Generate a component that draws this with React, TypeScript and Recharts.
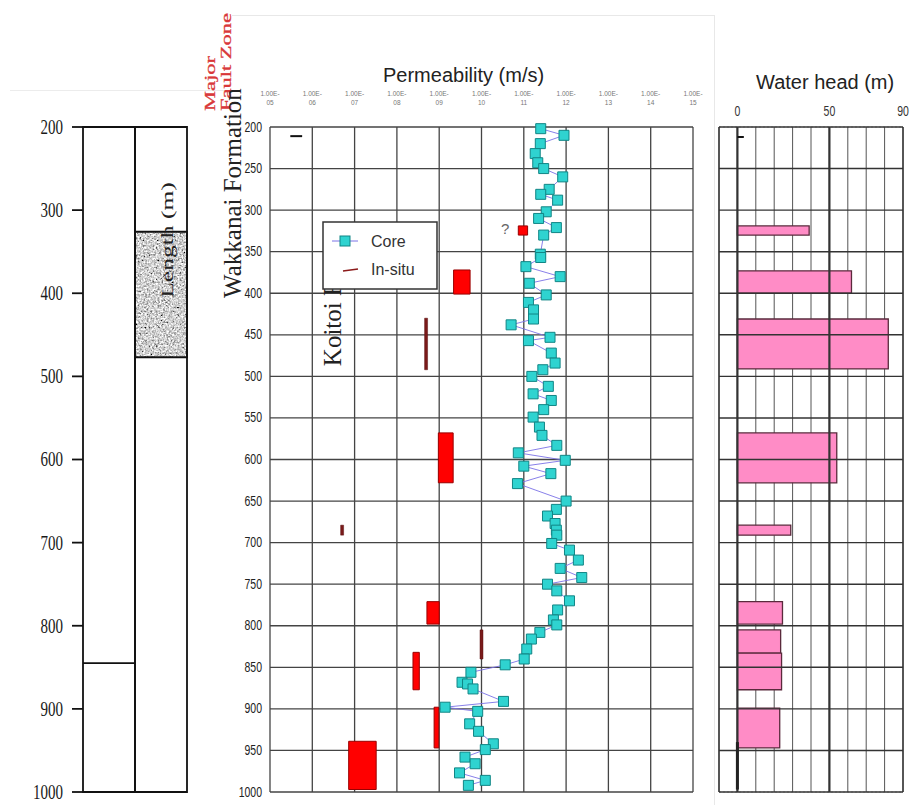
import React from 'react';
import {
  ComposedChart,
  Scatter,
  XAxis,
  YAxis,
  ZAxis,
  CartesianGrid,
  ReferenceArea,
  ReferenceLine,
} from 'recharts';

// depth (m), shared by the three panels
const depthTicks = [200, 300, 400, 500, 600, 700, 800, 900, 1000];
const depthTicks50 = [200, 250, 300, 350, 400, 450, 500, 550, 600, 650, 700, 750, 800, 850, 900, 950, 1000];
const depthTicks25 = [
  200, 225, 250, 275, 300, 325, 350, 375, 400, 425, 450, 475, 500, 525, 550, 575, 600,
  625, 650, 675, 700, 725, 750, 775, 800, 825, 850, 875, 900, 925, 950, 975, 1000,
];

// permeability axis, value n stands for 1.00E-n m/s
const decades = [5, 6, 7, 8, 9, 10, 11, 12, 13, 14, 15];

// core samples
const coreDepth = [
  202, 210, 220, 232, 243, 250, 260, 275, 281, 288, 302, 310, 321, 330, 353, 357, 368, 380, 388, 402,
  411, 420, 431, 438, 453, 457, 472, 484, 492, 500, 512, 521, 529, 540, 549, 561, 571, 583, 592, 601,
  608, 617, 629, 650, 660, 668, 677, 685, 691, 701, 709, 721, 731, 742, 750, 758, 770, 781, 793, 799,
  808, 816, 828, 840, 847, 856, 868, 870, 876, 891, 898, 903, 918, 927, 942, 949, 958, 966, 977, 986, 992,
];
const coreExp = [
  11.4, 11.95, 11.39, 11.27, 11.33, 11.47, 11.92, 11.6, 11.4, 11.8, 11.53, 11.35, 11.77, 11.47, 11.39, 11.4, 11.05, 11.86, 11.13, 11.53,
  11.11, 11.23, 11.23, 10.7, 11.62, 11.11, 11.65, 11.74, 11.45, 11.19, 11.58, 11.22, 11.65, 11.47, 11.22, 11.37, 11.43, 11.78, 10.87, 11.98,
  11.0, 11.64, 10.85, 12.0, 11.77, 11.56, 11.74, 11.77, 11.78, 11.66, 12.08, 12.29, 11.86, 12.37, 11.56, 11.78, 12.08, 11.8, 11.7, 11.78,
  11.38, 11.18, 11.07, 11.01, 10.56, 9.75, 9.54, 9.67, 9.8, 10.52, 9.14, 9.91, 9.72, 9.93, 10.28, 10.09, 9.61, 9.85, 9.48, 10.09, 9.69,
];

// in-situ tests: depth interval and permeability range
const insituTop = [319, 372, 430, 568, 679, 771, 805, 832, 898, 939];
const insituBottom = [330, 401, 492, 628, 691, 798, 840, 877, 947, 997];
const insituLow = [10.87, 9.34, 8.655, 8.98, 6.67, 8.71, 9.965, 8.38, 8.88, 6.86];
const insituHigh = [11.09, 9.73, 8.725, 9.33, 6.74, 9.0, 10.035, 8.53, 8.99, 7.51];
const insituThin = [false, false, true, false, true, false, true, false, false, false];

// water head (m)
const headTicks = [-10, 0, 10, 20, 30, 40, 50, 60, 70, 80, 90];
const headLabels = [0, 50, 90];
const headTop = [319, 373, 431, 568, 679, 771, 805, 833, 899];
const headBottom = [330, 400, 491, 628, 691, 798, 833, 877, 947];
const headValue = [39, 62, 82, 54, 29, 24.5, 23.5, 24, 23];

// geological column: two sub-columns, fault zone and unit boundary
const columnEdges = [0, 1, 2];
const faultZone = [326, 477];
const lowerUnitTop = 845;

const coreData = coreDepth.map((d, i) => ({ depth: d, exp: coreExp[i] }));
const headData = headTop.map((t, i) => ({ depth: (t + headBottom[i]) / 2, x: headValue[i] }));
const columnData = columnEdges.map((x) => ({ x, depth: 1000 }));

const minorTicks: number[] = [];
decades.slice(0, -1).forEach((n) => {
  for (let m = 2; m <= 9; m++) minorTicks.push(n + 1 - Math.log10(m));
});

const sans = '"Liberation Sans", Arial, sans-serif';
const serif = '"Liberation Serif", "Times New Roman", serif';

const NoMark = () => <g />;

const ColumnTick = ({ x, y, payload }: any) => (
  <text
    x={x}
    y={y}
    transform={`translate(0 ${y}) scale(1 1.4) translate(0 ${-y})`}
    textAnchor="end"
    dominantBaseline="central"
    fontFamily={serif}
    fontSize={15}
    fill="#1a1a1a"
  >
    {payload.value}
  </text>
);

const DepthTick = ({ x, y, payload }: any) => (
  <text
    x={x}
    y={y}
    transform={`translate(0 ${y}) scale(1 1.35) translate(0 ${-y})`}
    textAnchor="end"
    dominantBaseline="central"
    fontFamily={sans}
    fontSize={10.5}
    fill="#222"
  >
    {payload.value}
  </text>
);

const DecadeTick = ({ x, y, payload }: any) => (
  <g fontFamily={sans} fontSize={6.5} fill="#777" textAnchor="middle">
    <text x={x} y={y - 29}>1.00E-</text>
    <text x={x} y={y - 20}>{String(payload.value).padStart(2, '0')}</text>
  </g>
);

const HeadTick = ({ x, y, payload }: any) =>
  headLabels.includes(payload.value) ? (
    <text
      x={x}
      y={y - 14}
      transform={`translate(0 ${y - 14}) scale(1 1.35) translate(0 ${-(y - 14)})`}
      textAnchor="middle"
      dominantBaseline="central"
      fontFamily={sans}
      fontSize={10.5}
      fill="#333"
    >
      {payload.value}
    </text>
  ) : (
    <g />
  );

const Rotated = ({ cx, cy, sx = 1, style, children }: any) => (
  <div style={{ position: 'absolute', left: cx, top: cy, width: 0, height: 0 }}>
    <div
      style={{
        position: 'absolute',
        left: 0,
        top: 0,
        whiteSpace: 'pre',
        transform: `translate(-50%, -50%) rotate(-90deg) scaleX(${sx})`,
        ...style,
      }}
    >
      {children}
    </div>
  </div>
);

const GraniteShape = (p: any) => (
  <rect x={p.x} y={p.y} width={p.width} height={p.height} fill="#9c9c9c" filter="url(#grain)" />
);

export default function App() {
  return (
    <div style={{ position: 'absolute', left: 0, top: 0, width: 910, height: 806, background: '#fff', overflow: 'hidden' }}>
      {/* faint frame of the scanned figure */}
      <div style={{ position: 'absolute', left: 232, top: 15, width: 482, height: 1, background: '#e8e8e8' }} />
      <div style={{ position: 'absolute', left: 714, top: 15, width: 1, height: 790, background: '#e8e8e8' }} />
      <div style={{ position: 'absolute', left: 10, top: 90, width: 225, height: 1, background: '#ececec' }} />

      {/* geological column */}
      <div style={{ position: 'absolute', left: 0, top: 0 }}>
        <ComposedChart width={200} height={806} data={columnData} margin={{ top: 127, right: 13, bottom: 14, left: 0 }}>
          <defs>
            <filter id="grain" x="0" y="0" width="100%" height="100%">
              <feTurbulence type="fractalNoise" baseFrequency="0.55" numOctaves="3" seed="4" result="noise" />
              <feColorMatrix
                in="noise"
                type="matrix"
                values="0.95 0.95 0.95 0 -0.8  0.95 0.95 0.95 0 -0.8  0.95 0.95 0.95 0 -0.8  0 0 0 0 1"
                result="gray"
              />
              <feComposite in="gray" in2="SourceGraphic" operator="in" />
            </filter>
          </defs>
          <XAxis type="number" dataKey="x" domain={[0, 2]} hide />
          <YAxis
            type="number"
            dataKey="depth"
            domain={[200, 1000]}
            reversed
            ticks={depthTicks}
            interval={0}
            width={83}
            axisLine={false}
            tickLine={{ stroke: '#111', strokeWidth: 1.8 }}
            tickSize={11}
            tickMargin={9}
            tick={<ColumnTick />}
          />
          <Scatter data={columnData} dataKey="depth" shape={<NoMark />} isAnimationActive={false} />
          <ReferenceArea x1={1} x2={2} y1={faultZone[0]} y2={faultZone[1]} shape={<GraniteShape />} ifOverflow="visible" />
          <ReferenceArea x1={0} x2={1} y1={200} y2={1000} fill="none" stroke="#111" strokeWidth={1.8} fillOpacity={0} ifOverflow="visible" />
          <ReferenceArea x1={1} x2={2} y1={200} y2={1000} fill="none" stroke="#111" strokeWidth={1.8} fillOpacity={0} ifOverflow="visible" />
          <ReferenceArea x1={1} x2={2} y1={faultZone[0]} y2={faultZone[1]} fill="none" stroke="#111" strokeWidth={1.8} fillOpacity={0} ifOverflow="visible" />
          <ReferenceLine segment={[{ x: 0, y: lowerUnitTop }, { x: 1, y: lowerUnitTop }]} stroke="#111" strokeWidth={1.8} />
        </ComposedChart>
      </div>

      {/* permeability */}
      <div style={{ position: 'absolute', left: 210, top: 0 }}>
        <ComposedChart width={500} height={806} margin={{ top: 0, right: 17, bottom: 14, left: 0 }}>
          <CartesianGrid stroke="#444" strokeWidth={1.3} />
          <XAxis
            type="number"
            dataKey="exp"
            domain={[5, 15]}
            ticks={decades}
            interval={0}
            orientation="top"
            height={127}
            axisLine={false}
            tickLine={false}
            tickSize={0}
            tick={<DecadeTick />}
          />
          <XAxis
            xAxisId="minor"
            type="number"
            domain={[5, 15]}
            ticks={minorTicks}
            interval={0}
            orientation="top"
            mirror
            axisLine={false}
            tickSize={4}
            tickLine={{ stroke: '#9a9a9a' }}
            tick={false}
          />
          <YAxis
            type="number"
            dataKey="depth"
            domain={[200, 1000]}
            reversed
            ticks={depthTicks50}
            interval={0}
            width={60}
            axisLine={false}
            tickLine={false}
            tickSize={0}
            tickMargin={8}
            tick={<DepthTick />}
          />
          <ZAxis range={[100, 100]} />
          <ReferenceLine segment={[{ x: 5.48, y: 211 }, { x: 5.76, y: 211 }]} stroke="#111" strokeWidth={2} />
          {insituTop.map((t, i) => (
            <ReferenceArea
              key={i}
              x1={insituLow[i]}
              x2={insituHigh[i]}
              y1={t}
              y2={insituBottom[i]}
              fill={insituThin[i] ? '#7a1a1a' : '#ff0000'}
              fillOpacity={1}
              stroke={insituThin[i] ? '#5a1010' : '#990000'}
              strokeWidth={insituThin[i] ? 0.5 : 1}
            />
          ))}
          <Scatter
            data={coreData}
            dataKey="exp"
            shape="square"
            fill="#2fd3d0"
            stroke="#118585"
            strokeWidth={1}
            line={{ stroke: '#7b72e6', strokeWidth: 0.9 }}
            lineType="joint"
            isAnimationActive={false}
          />
        </ComposedChart>
      </div>

      {/* water head */}
      <div style={{ position: 'absolute', left: 700, top: 0 }}>
        <ComposedChart width={210} height={806} data={headData} margin={{ top: 0, right: 7, bottom: 14, left: 19 }}>
          <CartesianGrid vertical={false} stroke="#9a9a9a" strokeWidth={0.8} strokeDasharray="2 2" />
          <CartesianGrid horizontal={false} stroke="#555" strokeWidth={1} />
          <XAxis
            type="number"
            dataKey="x"
            domain={[-10, 90]}
            ticks={headTicks}
            interval={0}
            orientation="top"
            height={127}
            axisLine={false}
            tickLine={false}
            tickSize={0}
            tick={<HeadTick />}
          />
          <YAxis type="number" dataKey="depth" domain={[200, 1000]} reversed ticks={depthTicks25} interval={0} width={0} tick={false} axisLine={false} tickLine={false} />
          {depthTicks50.map((d) => (
            <ReferenceLine key={d} y={d} stroke="#333" strokeWidth={1.4} />
          ))}
          <ReferenceLine x={-10} stroke="#333" strokeWidth={1.4} />
          <ReferenceLine x={0} stroke="#333" strokeWidth={2.2} />
          <ReferenceLine x={50} stroke="#333" strokeWidth={2.2} />
          <ReferenceLine x={90} stroke="#333" strokeWidth={1.4} />
          {headTop.map((t, i) => (
            <ReferenceArea
              key={i}
              x1={0}
              x2={headValue[i]}
              y1={t}
              y2={headBottom[i]}
              fill="#ff8cc6"
              fillOpacity={1}
              stroke="#5a2a3c"
              strokeWidth={1.3}
            />
          ))}
          <ReferenceLine segment={[{ x: 0, y: 212 }, { x: 3.5, y: 212 }]} stroke="#111" strokeWidth={2} />
          <ReferenceLine segment={[{ x: 0, y: 940 }, { x: 0, y: 997 }]} stroke="#222" strokeWidth={3} />
          <Scatter data={headData} dataKey="x" shape={<NoMark />} isAnimationActive={false} />
        </ComposedChart>
      </div>

      {/* titles and annotations */}
      <div style={{ position: 'absolute', left: 383, top: 64, fontFamily: sans, fontSize: 20, color: '#222', whiteSpace: 'pre' }}>
        Permeability (m/s)
      </div>
      <div style={{ position: 'absolute', left: 756, top: 71, fontFamily: sans, fontSize: 20, color: '#222', whiteSpace: 'pre' }}>
        Water head (m)
      </div>
      <Rotated cx={218} cy={62} sx={1.45} style={{ fontFamily: serif, fontSize: 15.5, color: '#d9383a', lineHeight: '16px', WebkitTextStroke: '0.3px #d9383a' }}>
        {'Major\nFault Zone'}
      </Rotated>
      <Rotated cx={233} cy={193} style={{ fontFamily: serif, fontSize: 25, color: '#222' }}>
        Wakkanai Formation
      </Rotated>
      <Rotated cx={333} cy={322} style={{ fontFamily: serif, fontSize: 25, color: '#222' }}>
        Koitoi F.
      </Rotated>
      <Rotated cx={168} cy={240} sx={1.5} style={{ fontFamily: serif, fontSize: 17, color: '#222' }}>
        Length (m)
      </Rotated>
      <div style={{ position: 'absolute', left: 501, top: 220, fontFamily: sans, fontSize: 15, color: '#666' }}>?</div>

      {/* legend */}
      <svg width={116} height={69} style={{ position: 'absolute', left: 322, top: 221 }}>
        <rect x={1} y={1} width={114} height={67} fill="#fff" stroke="#333" strokeWidth={1.5} />
        <line x1={10} x2={36} y1={20} y2={20} stroke="#7b72e6" strokeWidth={1} />
        <rect x={18} y={15} width={10} height={10} fill="#2fd3d0" stroke="#118585" />
        <text x={49} y={26} fontFamily={sans} fontSize={16} fill="#333">Core</text>
        <line x1={21} x2={36} y1={50} y2={48} stroke="#8b1a1a" strokeWidth={1.5} />
        <text x={49} y={54} fontFamily={sans} fontSize={16} fill="#333">In-situ</text>
      </svg>
    </div>
  );
}
